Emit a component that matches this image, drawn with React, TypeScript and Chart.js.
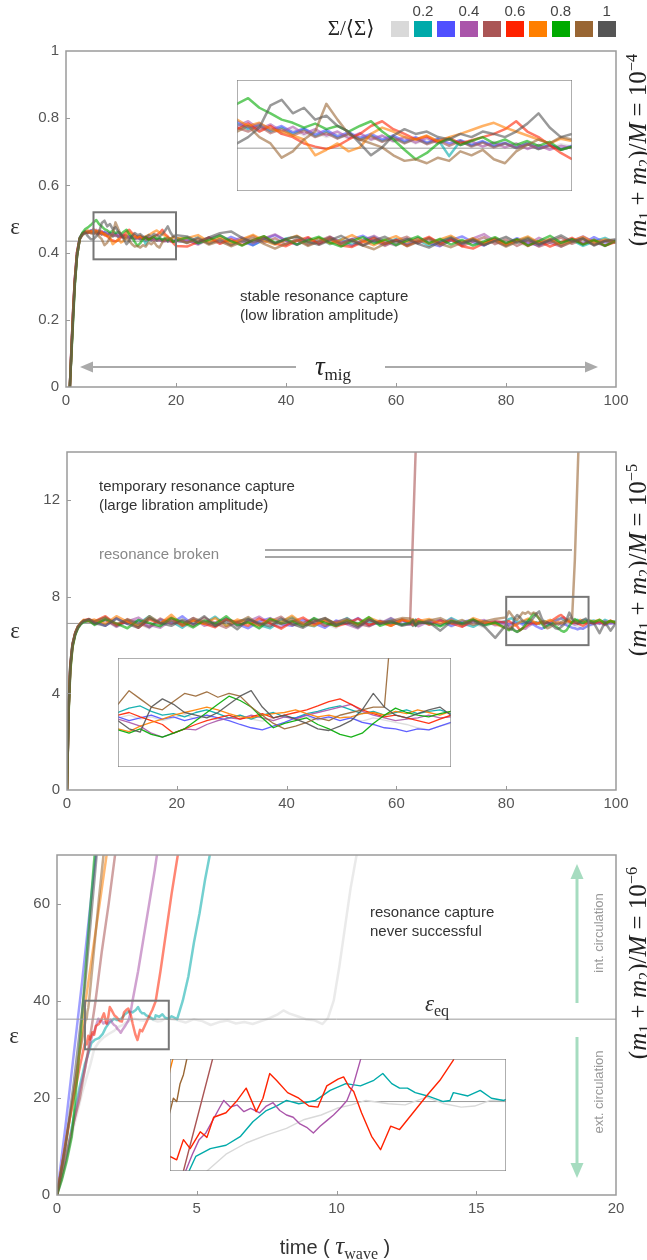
import React, { useEffect, useRef } from "react";
import { Chart, registerables } from "chart.js";
Chart.register(...registerables);

// ---------------- colours / legend ----------------
const COLORS = ["#d9d9d9", "#00aaaa", "#5050ff", "#aa55aa", "#aa5555", "#ff2200", "#ff7f00", "#00aa00", "#996633", "#555555"];
const LEGEND_LABELS = ["", "0.2", "", "0.4", "", "0.6", "", "0.8", "", "1"];
const MASS_EXPONENTS = ["−4", "−5", "−6"];

// ---------------- panel 1 (m/M = 1e-4) ----------------
const P1_X_TICKS = [0, 20, 40, 60, 80, 100];
const P1_Y_TICKS = [0, 0.2, 0.4, 0.6, 0.8, 1];
const P1_EQ = 0.434;
const P1_T = [0.7, 1, 1.3, 1.6, 2, 2.5, 3, 3.5, 4, 4.5,
  5, 5.5, 6, 6.5, 7, 7.5, 8, 8.5, 9, 9.5, 10, 10.5, 11, 11.5, 12, 12.5, 13, 13.5, 14, 14.5, 15, 15.5, 16, 16.5, 17, 17.5, 18, 18.5, 19, 19.5, 20,
  22, 24, 26, 28, 30, 32, 34, 36, 38, 40, 42, 44, 46, 48, 50, 52, 54, 56, 58, 60, 62, 64, 66, 68, 70, 72, 74, 76, 78, 80, 82, 84, 86, 88, 90, 92, 94, 96, 98, 100];
const P1_LIGHTGRAY = [0, .11, .22, .31, .39, .44, .454, .46, .458, .462,
  .458, .462, .455, .46, .452, .457, .45, .455, .448, .452, .446, .45, .444, .449, .442, .446, .44, .445, .443, .438, .444, .44, .436, .442, .439, .435, .441, .437, .434, .439, .436,
  .44, .428, .446, .432, .422, .441, .43, .447, .434, .424, .443, .429, .445, .433, .421, .439, .428, .446, .431, .42, .438, .427, .444, .43, .448, .433, .421, .44, .428, .445, .431, .419, .437, .426, .443, .43, .447, .432, .422, .436];
const P1_TEAL = [0, .11, .22, .31, .39, .44, .456, .462, .46, .465,
  .465, .458, .463, .455, .46, .452, .458, .449, .455, .447, .452, .445, .45, .443, .448, .441, .446, .44, .445, .424, .443, .437, .442, .436, .44, .434, .439, .433, .438, .432, .436,
  .43, .445, .427, .441, .424, .44, .422, .438, .426, .442, .448, .428, .443, .425, .44, .423, .436, .447, .426, .441, .423, .438, .421, .435, .446, .427, .442, .424, .439, .421, .434, .445, .426, .44, .422, .437, .42, .433, .444, .429];
const P1_BLUE = [0, .12, .23, .32, .40, .445, .458, .464, .462, .466,
  .468, .46, .465, .457, .462, .454, .459, .451, .457, .449, .454, .447, .452, .445, .45, .443, .448, .441, .446, .44, .444, .438, .443, .437, .441, .435, .44, .434, .438, .433, .437,
  .438, .426, .445, .43, .447, .433, .422, .44, .452, .436, .424, .443, .429, .446, .428, .44, .45, .433, .423, .438, .425, .444, .428, .419, .437, .448, .431, .421, .44, .426, .443, .429, .42, .437, .424, .441, .427, .446, .43, .436];
const P1_PURPLE = [0, .12, .22, .32, .40, .442, .455, .46, .463, .458,
  .462, .468, .458, .464, .455, .461, .452, .458, .45, .455, .447, .453, .445, .45, .443, .448, .441, .447, .44, .445, .438, .443, .436, .441, .435, .44, .433, .438, .432, .437, .434,
  .437, .424, .441, .452, .433, .445, .428, .442, .454, .436, .423, .44, .427, .446, .431, .42, .438, .45, .432, .422, .441, .428, .444, .426, .439, .423, .442, .455, .433, .421, .438, .425, .444, .429, .418, .435, .448, .431, .42, .436];
const P1_BROWNRED = [0, .11, .22, .31, .39, .44, .455, .46, .458, .462,
  .46, .455, .462, .453, .458, .45, .456, .448, .453, .446, .452, .444, .449, .442, .447, .44, .446, .439, .444, .437, .443, .436, .441, .435, .44, .434, .439, .433, .437, .432, .436,
  .43, .444, .427, .44, .422, .437, .45, .43, .443, .424, .441, .423, .435, .448, .428, .441, .422, .438, .42, .436, .447, .428, .44, .421, .437, .419, .433, .446, .425, .439, .42, .436, .418, .43, .445, .426, .44, .423, .436, .433];
const P1_RED = [0, .12, .23, .32, .40, .443, .457, .462, .46, .464,
  .458, .465, .455, .462, .452, .448, .44, .436, .433, .437, .445, .452, .462, .468, .458, .452, .445, .449, .442, .447, .44, .444, .448, .452, .458, .468, .455, .448, .438, .428, .42,
  .418, .432, .445, .426, .44, .422, .437, .448, .427, .419, .435, .446, .425, .44, .421, .417, .432, .444, .426, .438, .42, .434, .447, .427, .441, .419, .412, .428, .443, .425, .439, .42, .434, .418, .431, .444, .425, .438, .421, .432];
const P1_ORANGE = [0, .11, .22, .31, .39, .442, .456, .461, .466, .46,
  .47, .462, .466, .458, .455, .45, .445, .425, .432, .44, .43, .435, .452, .46, .455, .448, .445, .45, .443, .448, .452, .457, .462, .466, .46, .455, .45, .445, .44, .446, .443,
  .443, .452, .432, .445, .428, .44, .453, .436, .424, .439, .45, .431, .444, .427, .438, .452, .434, .422, .437, .449, .43, .442, .426, .439, .45, .431, .443, .427, .438, .423, .436, .448, .429, .441, .424, .435, .447, .43, .439, .434];
const P1_GREEN = [0, .10, .20, .30, .39, .443, .46, .47, .475, .482,
  .49, .497, .485, .478, .47, .466, .46, .465, .458, .462, .455, .462, .468, .455, .445, .432, .42, .428, .44, .446, .438, .443, .448, .44, .445, .438, .443, .437, .442, .432, .436,
  .445, .428, .438, .451, .434, .421, .437, .449, .429, .44, .424, .437, .447, .43, .418, .435, .446, .427, .439, .422, .436, .448, .428, .441, .424, .438, .421, .433, .446, .428, .44, .421, .435, .45, .429, .44, .424, .438, .42, .436];
const P1_BROWN = [0, .12, .23, .32, .40, .44, .452, .458, .462, .458,
  .455, .462, .448, .44, .422, .43, .445, .455, .49, .47, .452, .445, .44, .435, .425, .418, .42, .415, .422, .418, .43, .425, .432, .42, .415, .43, .438, .445, .44, .448, .445,
  .428, .441, .424, .434, .419, .432, .443, .426, .412, .427, .437, .42, .433, .444, .425, .438, .421, .41, .427, .436, .419, .432, .443, .426, .416, .43, .44, .423, .435, .418, .432, .443, .425, .438, .418, .431, .442, .424, .434, .43];
const P1_DARKGRAY = [0, .11, .21, .31, .39, .442, .455, .46, .448, .44,
  .44, .448, .46, .488, .495, .478, .485, .47, .475, .462, .455, .44, .425, .435, .45, .458, .452, .455, .448, .445, .452, .448, .455, .452, .448, .455, .465, .478, .46, .448, .452,
  .448, .432, .445, .458, .463, .444, .431, .442, .427, .44, .448, .432, .423, .437, .45, .433, .421, .436, .447, .43, .441, .426, .415, .432, .444, .427, .438, .422, .435, .447, .429, .439, .424, .437, .451, .433, .442, .421, .435, .44];

// ---------------- panel 2 (m/M = 1e-5) ----------------
const P2_X_TICKS = [0, 20, 40, 60, 80, 100];
const P2_Y_TICKS = [0, 4, 8, 12];
const P2_EQ = 6.9;
const P2_T = [0, 0.3, 0.6, 1, 1.5, 2, 2.5, 3, 4,
  5, 7, 9, 11, 13, 15, 17, 19, 21, 23, 25, 27, 29, 31, 33, 35, 37, 39, 41, 43, 45, 47, 49, 51, 53, 55, 57, 59, 61,
  62.5, 63, 63.5, 64,
  66, 68, 70, 72, 74, 76, 78,
  80, 80.5, 81, 81.5, 82, 82.5, 83, 83.5, 84, 84.5, 85, 85.5, 86, 86.5, 87, 87.5, 88, 88.5, 89, 89.5, 90, 90.5, 91, 91.5, 92, 92.5, 93, 93.5, 94, 94.5, 95,
  96, 97, 98, 99, 100];
const P2_LIGHTGRAY = [0, 3.3, 5.0, 5.9, 6.45, 6.7, 6.85, 6.95, 7.0,
  6.82, 7.0, 6.75, 7.05, 6.9, 6.7, 6.98, 7.1, 6.85, 6.72, 7.02, 6.88, 7.12, 6.8, 6.95, 6.68, 6.98, 7.1, 6.85, 6.76, 7.04, 6.9, 6.72, 7.08, 6.92, 6.8, 7.05, 6.84, 6.95,
  6.9, 7.0, 6.82, 6.96,
  6.84, 7.04, 6.76, 7.0, 6.9, 6.74, 6.96,
  6.9, 6.95, 6.88, 6.92, 6.85, 6.9, 6.96, 6.88, 6.93, 6.86, 6.9, 6.95, 6.88, 6.84, 6.9, 6.94, 6.88, 6.92, 6.86, 6.9, 6.95, 6.89, 6.84, 6.9, 6.86, 6.82, 6.78, 6.72, 6.68, 6.75, 6.8,
  6.85, 6.92, 6.8, 6.95, 6.88];
const P2_TEAL = [0, 3.5, 5.2, 6.05, 6.5, 6.78, 6.9, 7.02, 7.0,
  6.95, 7.15, 6.8, 7.02, 6.88, 7.2, 6.85, 6.98, 6.72, 7.05, 6.9, 7.18, 6.8, 6.96, 7.1, 6.84, 6.7, 7.0, 7.15, 6.88, 6.78, 7.04, 6.9, 7.12, 6.82, 6.98, 6.86, 7.1, 6.85,
  6.98, 6.8, 7.06, 6.9,
  7.04, 6.82, 7.12, 6.9, 6.76, 7.0, 6.88,
  7.0, 7.08, 7.12, 7.02, 6.95, 6.98, 6.92, 7.0, 7.05, 6.98, 6.9, 6.95, 6.88, 6.95, 7.0, 6.92, 6.9, 6.98, 7.02, 7.08, 7.12, 7.05, 6.98, 7.02, 6.95, 7.0, 7.05, 6.98, 7.02, 7.05, 6.98,
  7.02, 6.9, 7.05, 6.95, 7.0];
const P2_BLUE = [0, 3.4, 5.1, 6.0, 6.48, 6.74, 6.88, 6.98, 7.02,
  7.0, 6.8, 7.12, 6.88, 7.02, 6.74, 7.06, 6.9, 7.2, 6.85, 6.98, 6.78, 7.1, 6.88, 6.7, 6.98, 7.12, 6.86, 6.8, 7.05, 6.9, 6.72, 7.02, 6.88, 7.12, 6.8, 6.98, 6.88, 7.04,
  6.88, 7.06, 6.84, 6.98,
  6.9, 7.04, 6.8, 6.96, 7.06, 6.84, 6.98,
  6.92, 6.85, 6.9, 6.95, 6.88, 6.92, 6.85, 6.9, 6.95, 6.9, 6.85, 6.78, 6.72, 6.68, 6.75, 6.82, 6.9, 6.95, 6.88, 6.92, 6.85, 6.9, 6.82, 6.78, 6.72, 6.7, 6.65, 6.7, 6.68, 6.75, 6.82,
  6.88, 6.95, 6.85, 6.92, 6.9];
const P2_PURPLE = [0, 3.3, 5.0, 5.95, 6.45, 6.72, 6.88, 7.0, 7.05,
  6.88, 7.06, 6.76, 6.98, 7.14, 6.84, 6.72, 7.04, 6.88, 7.12, 6.8, 6.94, 7.08, 6.8, 6.98, 7.18, 6.88, 6.74, 7.0, 6.9, 7.1, 6.8, 6.98, 6.86, 6.7, 7.04, 6.9, 7.12, 6.88,
  6.84, 7.0, 6.9, 6.78,
  7.0, 6.84, 7.08, 6.78, 6.94, 7.04, 6.82,
  6.88, 6.82, 6.75, 6.62, 6.55, 6.62, 6.7, 6.68, 6.78, 6.85, 6.9, 6.88, 6.95, 6.9, 6.85, 6.92, 6.88, 6.95, 7.0, 7.05, 7.1, 7.15, 7.02, 6.95, 6.9, 6.85, 6.88, 6.9, 6.95, 6.9, 6.92,
  6.95, 6.88, 7.0, 6.9, 6.95];
const P2_BROWNRED = [0, 3.5, 5.2, 6.05, 6.52, 6.78, 6.92, 7.0, 6.98,
  6.88, 7.04, 6.8, 7.08, 6.92, 6.74, 7.1, 6.88, 7.0, 6.8, 7.14, 6.9, 6.72, 6.98, 7.06, 6.84, 6.98, 7.18, 6.82, 6.94, 7.04, 6.8, 6.96, 7.1, 6.88, 6.78, 7.0, 6.92, 7.06,
  7.0, 10.5, 14.0, 17.5];
const P2_RED = [0, 3.4, 5.1, 6.0, 6.5, 6.76, 6.9, 7.02, 7.08,
  6.98, 7.2, 6.85, 6.98, 6.72, 7.06, 6.9, 7.14, 6.8, 7.02, 6.88, 6.74, 7.06, 6.96, 6.8, 7.1, 6.9, 6.68, 6.96, 7.14, 6.86, 7.0, 6.78, 6.9, 7.1, 6.84, 6.98, 6.8, 7.04,
  6.94, 6.82, 7.0, 7.08,
  6.84, 7.02, 6.9, 6.76, 7.04, 6.9, 6.98,
  6.95, 7.0, 6.92, 6.85, 6.78, 6.62, 6.7, 6.78, 6.85, 6.9, 6.95, 6.88, 6.92, 6.98, 6.9, 6.95, 7.0, 7.05, 7.12, 7.2, 7.25, 7.15, 7.05, 6.98, 6.92, 6.95, 6.9, 6.85, 6.8, 6.88, 6.95,
  6.9, 6.98, 6.85, 7.02, 6.9];
const P2_ORANGE = [0, 3.3, 5.0, 5.95, 6.48, 6.75, 6.92, 7.05, 7.0,
  7.06, 6.88, 7.2, 6.96, 6.8, 7.12, 6.9, 7.26, 6.84, 7.02, 6.88, 7.12, 6.8, 7.06, 6.92, 6.8, 7.1, 6.96, 7.22, 6.88, 6.8, 7.06, 6.9, 7.02, 6.84, 7.14, 6.96, 6.8, 7.06,
  6.98, 7.08, 6.88, 7.0,
  7.08, 6.9, 7.02, 6.84, 7.12, 6.96, 6.88,
  6.7, 6.65, 6.75, 6.82, 6.88, 6.95, 7.0, 7.05, 7.1, 7.05, 6.98, 6.92, 6.9, 6.95, 6.98, 7.0, 7.05, 6.98, 6.92, 6.95, 6.9, 6.92, 6.98, 7.0, 6.95, 7.02, 6.98, 7.05, 7.0, 6.95, 7.02,
  6.98, 7.05, 6.9, 7.0, 6.95];
const P2_GREEN = [0, 3.2, 4.9, 5.9, 6.42, 6.7, 6.86, 6.95, 7.02,
  6.84, 7.08, 6.9, 6.7, 7.04, 6.92, 6.78, 7.12, 6.96, 6.74, 7.02, 6.88, 7.2, 6.82, 6.96, 6.7, 7.08, 6.9, 7.0, 6.78, 7.12, 6.92, 6.8, 7.02, 6.88, 7.16, 6.8, 6.96, 6.84,
  6.92, 7.04, 6.82, 6.98,
  6.9, 6.78, 7.0, 6.9, 7.06, 6.82, 6.94,
  6.68, 6.62, 6.7, 6.6, 6.55, 6.62, 6.7, 6.85, 7.0, 7.15, 7.3, 7.22, 7.1, 6.9, 6.72, 6.8, 6.85, 6.9, 6.78, 6.7, 6.6, 6.55, 6.62, 6.8, 6.95, 7.08, 7.0, 6.95, 6.92, 6.98, 7.02,
  6.95, 7.05, 6.9, 7.0, 6.92];
const P2_BROWN = [0, 3.4, 5.2, 6.05, 6.5, 6.78, 6.92, 7.0, 7.05,
  6.98, 7.14, 6.88, 7.06, 6.8, 7.2, 6.92, 7.02, 6.84, 7.12, 6.96, 6.8, 7.06, 6.92, 7.16, 6.84, 7.0, 6.88, 7.1, 6.82, 6.96, 7.12, 6.88, 7.02, 6.8, 7.06, 6.92, 7.0, 7.12,
  7.1, 6.94, 7.04, 6.88,
  7.02, 7.12, 6.9, 7.04, 6.84, 6.98, 7.08,
  7.15, 7.4, 7.25, 7.1, 7.05, 7.2, 7.35, 7.3, 7.38, 7.28, 7.35, 7.3, 7.1, 6.95, 6.8, 6.7, 6.75, 6.82, 6.9, 6.85, 6.95, 7.0, 7.05, 7.1, 7.1, 9.5, 13.0, 16.5];
const P2_DARKGRAY = [0, 3.4, 5.1, 6.0, 6.48, 6.74, 6.9, 7.0, 7.08,
  6.92, 6.8, 7.1, 6.88, 6.72, 7.12, 6.92, 6.8, 7.06, 6.88, 7.2, 6.8, 6.98, 6.66, 7.06, 6.92, 6.78, 7.1, 6.88, 6.72, 6.98, 7.12, 6.84, 6.94, 6.74, 7.06, 6.88, 7.0, 6.8,
  6.88, 7.0, 6.8, 6.92,
  6.94, 6.6, 6.98, 6.86, 7.0, 6.78, 6.3,
  6.85, 6.7, 6.64, 7.1, 7.25, 7.15, 7.0, 6.95, 6.9, 7.0, 7.15, 7.3, 7.4, 7.1, 6.9, 6.95, 6.88, 6.8, 6.7, 6.67, 6.75, 6.85, 7.05, 7.35, 7.1, 6.95, 6.9, 6.98, 7.05, 7.1, 6.95,
  6.9, 6.5, 6.95, 6.6, 6.92];

// ---------------- panel 3 (m/M = 1e-6) ----------------
const P3_X_TICKS = [0, 5, 10, 15, 20];
const P3_Y_TICKS = [0, 20, 40, 60];
const P3_EQ = 36.2;
const P3_LIGHTGRAY_T = [0, 0.3, 0.6, 0.9, 1.2, 1.33, 1.5, 1.68, 1.86, 2.04, 2.2, 2.35, 2.49, 2.62, 2.75, 2.95, 3.1, 3.29, 3.45, 3.6, 3.72, 3.86, 4.0, 4.3, 4.6, 4.9, 5.2, 5.5, 5.8, 6.1, 6.4, 6.7, 7.0, 7.3, 7.6, 7.9, 8.1, 8.3, 8.6, 8.9, 9.2, 9.5, 9.7, 9.9, 10.1, 10.3, 10.5, 10.75];
const P3_LIGHTGRAY = [0, 7, 14, 21, 27, 30, 31.5, 32.5, 33.2, 33.8, 34.6, 35.0, 35.6, 35.9, 36.3, 36.0, 35.9, 36.6, 36.0, 35.7, 35.8, 36.3, 36.3, 36.0, 35.5, 36.2, 35.8, 35.0, 35.6, 35.9, 35.3, 35.6, 35.2, 35.8, 36.4, 37.2, 38.0, 37.4, 36.8, 36.2, 36.0, 35.2, 36.5, 40, 47, 55, 63, 71];
const P3_TEAL_T = [0, 0.2, 0.4, 0.6, 0.8, 1.0, 1.17, 1.23, 1.36, 1.5, 1.63, 1.74, 1.86, 1.95, 2.04, 2.15, 2.3, 2.43, 2.57, 2.7, 2.82, 2.9, 2.98, 3.05, 3.12, 3.19, 3.3, 3.44, 3.5, 3.53, 3.66, 3.77, 3.87, 3.98, 4.1, 4.3, 4.5, 4.7, 4.9, 5.1, 5.3, 5.5];
const P3_TEAL = [0, 5, 10, 16, 22, 27, 30, 31.3, 32.0, 32.3, 33.1, 34.4, 35.4, 35.8, 36.3, 36.0, 36.3, 37.2, 37.8, 37.6, 38.1, 38.7, 37.8, 37.4, 37.4, 37.0, 36.7, 36.2, 36.3, 37.0, 36.7, 37.2, 36.5, 36.3, 36.8, 36.2, 40, 45, 52, 58, 65, 71];
const P3_BLUE_T = [0, 0.3, 0.6, 0.9, 1.2, 1.5];
const P3_BLUE = [0, 14, 29, 44, 60, 76];
const P3_PURPLE_T = [0, 0.2, 0.4, 0.6, 0.8, 1.0, 1.14, 1.2, 1.26, 1.32, 1.38, 1.44, 1.48, 1.54, 1.6, 1.66, 1.72, 1.8, 1.86, 1.92, 1.98, 2.04, 2.1, 2.16, 2.22, 2.28, 2.34, 2.4, 2.46, 2.52, 2.58, 2.64, 2.7, 2.9, 3.1, 3.3, 3.5, 3.6];
const P3_PURPLE = [0, 4, 9, 15, 21, 26, 30, 31.5, 32.8, 33.4, 34.5, 35.6, 36.3, 35.7, 35.9, 35.3, 35.6, 35.2, 35.8, 36.1, 35.4, 35.0, 34.8, 34.2, 33.9, 33.4, 34.0, 34.5, 35.0, 35.6, 36.3, 37.8, 39.9, 46, 53, 60, 67, 71];
const P3_BROWNRED_T = [0, 0.2, 0.4, 0.6, 0.82, 1.0, 1.12, 1.25, 1.38, 1.6, 1.85, 2.1];
const P3_BROWNRED = [0, 5, 10, 15, 20, 26, 30, 35, 40, 50, 60, 71];
const P3_RED_T = [0, 0.2, 0.4, 0.6, 0.8, 1.0, 1.06, 1.12, 1.18, 1.27, 1.33, 1.39, 1.5, 1.6, 1.68, 1.77, 1.83, 1.89, 1.95, 2.05, 2.15, 2.24, 2.32, 2.4, 2.5, 2.55, 2.6, 2.64, 2.71, 2.8, 2.88, 2.97, 3.05, 3.17, 3.29, 3.41, 3.53, 3.7, 3.9, 4.1, 4.35];
const P3_RED = [0, 7, 14, 20, 26, 31.3, 31.0, 32.8, 32.0, 33.5, 33.0, 34.8, 35.2, 36.3, 37.4, 35.3, 36.5, 38.7, 38.1, 37.0, 36.5, 35.8, 35.7, 37.6, 38.2, 38.4, 37.5, 37.1, 35.2, 33.1, 31.9, 34.0, 33.7, 35.2, 36.7, 38.1, 39.9, 46, 54, 62, 71];
const P3_ORANGE_T = [0, 0.3, 0.6, 0.85, 1.0, 1.2, 1.4, 1.6, 1.8];
const P3_ORANGE = [0, 10, 21, 31, 39, 47, 55, 63, 71];
const P3_GREEN_T = [0, 0.17, 0.35, 0.53, 0.75, 0.95, 1.15, 1.4];
const P3_GREEN = [0, 3, 7, 12, 26, 41, 56, 74];
const P3_BROWN_T = [0, 0.3, 0.6, 0.8, 0.9, 1.0, 1.03, 1.06, 1.09, 1.12, 1.15, 1.3, 1.5, 1.7];
const P3_BROWN = [0, 10, 21, 29, 32, 35.3, 36.5, 36.2, 37.8, 38.6, 40, 49, 61, 72];
const P3_DARKGRAY_T = [0, 0.3, 0.6, 0.8, 1.0, 1.2, 1.45];
const P3_DARKGRAY = [0, 10, 23, 33, 43, 56, 72];

// ---------------- helpers ----------------
type Series = { t: number[]; v: (number | null)[]; color: string };
type PanelCfg = {
  left: number; top: number; width: number; height: number;
  xMin: number; xMax: number; yMin: number; yMax: number;
  xTicks?: number[]; yTicks?: number[];
  series: Series[];
  lineWidth: number; alpha: number;
  eq?: { y: number; x0: number; x1: number; onTop: boolean };
  box?: [number, number, number, number];
  frameColor: string; frameWidth: number;
  axes: boolean;
};

const SANS = "'Liberation Sans', Arial, Helvetica, sans-serif";
const SERIF = "'Liberation Serif', 'DejaVu Serif', 'Times New Roman', serif";

function hexA(hex: string, a: number) {
  const n = parseInt(hex.slice(1), 16);
  return `rgba(${(n >> 16) & 255},${(n >> 8) & 255},${n & 255},${a})`;
}
function pts(t: number[], v: (number | null)[]) {
  const n = Math.min(t.length, v.length);
  const out: { x: number; y: number | null }[] = [];
  for (let i = 0; i < n; i++) out.push({ x: t[i], y: v[i] });
  return out;
}

const P1_SERIES: Series[] = [P1_LIGHTGRAY, P1_TEAL, P1_BLUE, P1_PURPLE, P1_BROWNRED, P1_RED, P1_ORANGE, P1_GREEN, P1_BROWN, P1_DARKGRAY]
  .map((v, i) => ({ t: P1_T, v, color: COLORS[i] }));
const P2_SERIES: Series[] = [P2_LIGHTGRAY, P2_TEAL, P2_BLUE, P2_PURPLE, P2_BROWNRED, P2_RED, P2_ORANGE, P2_GREEN, P2_BROWN, P2_DARKGRAY]
  .map((v, i) => ({ t: P2_T, v, color: COLORS[i] }));
const P3_SERIES: Series[] = [
  [P3_LIGHTGRAY_T, P3_LIGHTGRAY], [P3_TEAL_T, P3_TEAL], [P3_BLUE_T, P3_BLUE], [P3_PURPLE_T, P3_PURPLE], [P3_BROWNRED_T, P3_BROWNRED],
  [P3_RED_T, P3_RED], [P3_ORANGE_T, P3_ORANGE], [P3_GREEN_T, P3_GREEN], [P3_BROWN_T, P3_BROWN], [P3_DARKGRAY_T, P3_DARKGRAY],
].map((p, i) => ({ t: p[0] as number[], v: p[1] as number[], color: COLORS[i] }));

const MAIN_FRAME = "#9a9a9a";
const INSET_FRAME = "#7a7a7a";

const PANELS: PanelCfg[] = [
  { left: 66, top: 47, width: 550, height: 340, xMin: 0, xMax: 100, yMin: 0, yMax: 1, xTicks: P1_X_TICKS, yTicks: P1_Y_TICKS,
    series: P1_SERIES, lineWidth: 2.5, alpha: 0.6, eq: { y: P1_EQ, x0: 0, x1: 100, onTop: false }, box: [5, 20, 0.38, 0.52],
    frameColor: MAIN_FRAME, frameWidth: 1.5, axes: true },
  { left: 237, top: 80, width: 335, height: 111, xMin: 5, xMax: 20, yMin: 0.38, yMax: 0.52,
    series: P1_SERIES, lineWidth: 2.5, alpha: 0.6, eq: { y: P1_EQ, x0: 5, x1: 20, onTop: false },
    frameColor: INSET_FRAME, frameWidth: 1.2, axes: false },
  { left: 67, top: 448, width: 549, height: 342, xMin: 0, xMax: 100, yMin: 0, yMax: 14, xTicks: P2_X_TICKS, yTicks: P2_Y_TICKS,
    series: P2_SERIES, lineWidth: 2.5, alpha: 0.6, eq: { y: P2_EQ, x0: 0, x1: 100, onTop: false }, box: [80, 95, 6, 8],
    frameColor: MAIN_FRAME, frameWidth: 1.5, axes: true },
  { left: 118, top: 658, width: 333, height: 109, xMin: 80, xMax: 95, yMin: 6, yMax: 8,
    series: P2_SERIES, lineWidth: 1.3, alpha: 0.9,
    frameColor: INSET_FRAME, frameWidth: 1.2, axes: false },
  { left: 57, top: 851, width: 559, height: 344, xMin: 0, xMax: 20, yMin: 0, yMax: 70, xTicks: P3_X_TICKS, yTicks: P3_Y_TICKS,
    series: P3_SERIES, lineWidth: 2.5, alpha: 0.55, eq: { y: P3_EQ, x0: 0, x1: 20, onTop: true }, box: [1, 4, 30, 40],
    frameColor: MAIN_FRAME, frameWidth: 1.5, axes: true },
  { left: 170, top: 1059, width: 336, height: 112, xMin: 1, xMax: 4, yMin: 30, yMax: 40,
    series: P3_SERIES, lineWidth: 1.4, alpha: 1, eq: { y: P3_EQ, x0: 1, x1: 4, onTop: false },
    frameColor: INSET_FRAME, frameWidth: 1.2, axes: false },
];

const AX_W = 60, AX_H = 30, PAD_T = 12, PAD_R = 26;

function geom(cfg: PanelCfg) {
  if (!cfg.axes) return { l: cfg.left, t: cfg.top, w: cfg.width, h: cfg.height };
  return { l: cfg.left - AX_W, t: cfg.top - PAD_T, w: AX_W + cfg.width + PAD_R, h: PAD_T + cfg.height + AX_H };
}

function buildConfig(cfg: PanelCfg): any {
  const datasets: any[] = [];
  if (cfg.eq) {
    datasets.push({
      data: [{ x: cfg.eq.x0, y: cfg.eq.y }, { x: cfg.eq.x1, y: cfg.eq.y }],
      borderColor: "#9a9a9a", borderWidth: 1, pointRadius: 0, order: cfg.eq.onTop ? -100 : 100,
    });
  }
  cfg.series.forEach((s, i) => {
    datasets.push({
      data: pts(s.t, s.v),
      borderColor: hexA(s.color, cfg.alpha),
      borderWidth: cfg.lineWidth,
      pointRadius: 0,
      spanGaps: false,
      tension: 0,
      borderJoinStyle: "round",
      order: -i,
    });
  });
  const tickFont = { family: SANS, size: 15 };
  const deco = {
    id: "deco",
    afterDatasetsDraw(chart: any) {
      const { ctx, chartArea: a, scales } = chart;
      const xs = scales.x, ys = scales.y;
      ctx.save();
      if (cfg.box) {
        const [x0, x1, y0, y1] = cfg.box;
        const px0 = xs.getPixelForValue(x0), px1 = xs.getPixelForValue(x1);
        const py0 = ys.getPixelForValue(y0), py1 = ys.getPixelForValue(y1);
        ctx.strokeStyle = "#777777";
        ctx.lineWidth = 2;
        ctx.strokeRect(px0, py1, px1 - px0, py0 - py1);
      }
      ctx.strokeStyle = cfg.frameColor;
      ctx.lineWidth = cfg.frameWidth;
      ctx.strokeRect(a.left, a.top, a.right - a.left, a.bottom - a.top);
      if (cfg.axes) {
        ctx.lineWidth = 1;
        ctx.beginPath();
        (cfg.xTicks || []).forEach((v) => {
          const p = Math.round(xs.getPixelForValue(v)) + 0.5;
          if (p > a.left + 2 && p < a.right - 2) { ctx.moveTo(p, a.bottom); ctx.lineTo(p, a.bottom - 4); }
        });
        (cfg.yTicks || []).forEach((v) => {
          const p = Math.round(ys.getPixelForValue(v)) + 0.5;
          if (p > a.top + 2 && p < a.bottom - 2) { ctx.moveTo(a.left, p); ctx.lineTo(a.left + 4, p); }
        });
        ctx.stroke();
      }
      ctx.restore();
    },
  };
  const xScale: any = {
    type: "linear", min: cfg.xMin, max: cfg.xMax, display: cfg.axes,
    grid: { display: false, drawTicks: false }, border: { display: false },
    ticks: { font: tickFont, color: "#555", padding: 5, maxRotation: 0, autoSkip: false, callback: (v: number) => String(v) },
  };
  const yScale: any = {
    type: "linear", min: cfg.yMin, max: cfg.yMax, display: cfg.axes,
    grid: { display: false, drawTicks: false }, border: { display: false },
    ticks: { font: tickFont, color: "#555", padding: 7, autoSkip: false, callback: (v: number) => String(v) },
  };
  if (cfg.axes) {
    xScale.afterBuildTicks = (s: any) => { s.ticks = (cfg.xTicks || []).map((v) => ({ value: v })); };
    yScale.afterBuildTicks = (s: any) => { s.ticks = (cfg.yTicks || []).map((v) => ({ value: v })); };
    xScale.afterFit = (s: any) => { s.height = AX_H; };
    yScale.afterFit = (s: any) => { s.width = AX_W; };
  }
  return {
    type: "line",
    data: { datasets },
    options: {
      animation: false,
      responsive: false,
      devicePixelRatio: 1,
      events: [],
      layout: { padding: cfg.axes ? { top: PAD_T, right: PAD_R, left: 0, bottom: 0 } : 0 },
      plugins: { legend: { display: false }, tooltip: { enabled: false } },
      scales: { x: xScale, y: yScale },
    },
    plugins: [deco],
  };
}

function ChartPanel({ cfg }: { cfg: PanelCfg }) {
  const ref = useRef<HTMLCanvasElement>(null);
  const g = geom(cfg);
  useEffect(() => {
    if (!ref.current) return;
    const chart = new Chart(ref.current, buildConfig(cfg));
    return () => chart.destroy();
  }, []);
  return (
    <canvas ref={ref} width={g.w} height={g.h}
      style={{ position: "absolute", left: g.l, top: g.t, width: g.w, height: g.h }} />
  );
}

function Txt({ x, y, center, rotate, style, children }: any) {
  let tr = center ? "translate(-50%,-50%)" : "translateY(-50%)";
  if (rotate) tr = "translate(-50%,-50%) rotate(-90deg)";
  return (
    <div style={{ position: "absolute", left: x, top: y, transform: tr, whiteSpace: "nowrap", lineHeight: 1, ...style }}>
      {children}
    </div>
  );
}

const SUB = { fontSize: "0.65em", verticalAlign: "-0.3em", lineHeight: 0 } as any;
const SUP = { fontSize: "0.65em", verticalAlign: "0.55em", lineHeight: 0 } as any;

function MassLabel({ exp }: { exp: string }) {
  return (
    <span style={{ fontFamily: SERIF, fontSize: 25, color: "#222" }}>
      (<i>m</i><span style={SUB}>1</span> + <i>m</i><span style={SUB}>2</span>)/<i>M</i> = 10<span style={SUP}>{exp}</span>
    </span>
  );
}

export default function App() {
  const annot = { fontFamily: SANS, fontSize: 15, color: "#333" };
  const swX0 = 391, swStep = 22.97;
  return (
    <div style={{ position: "absolute", left: 0, top: 0, width: 647, height: 1260, background: "#fff", overflow: "hidden", fontFamily: SANS }}>
      {PANELS.map((p, i) => <ChartPanel key={i} cfg={p} />)}

      <svg width={647} height={1260} style={{ position: "absolute", left: 0, top: 0, pointerEvents: "none" }}>
        <line x1={296} y1={367} x2={88} y2={367} stroke="#aaaaaa" strokeWidth={2} />
        <polygon points="80,367 93,361.5 93,372.5" fill="#aaaaaa" />
        <line x1={385} y1={367} x2={590} y2={367} stroke="#aaaaaa" strokeWidth={2} />
        <polygon points="598,367 585,361.5 585,372.5" fill="#aaaaaa" />
        <line x1={265} y1={550} x2={572} y2={550} stroke="#888888" strokeWidth={1.3} />
        <line x1={265} y1={557} x2={412} y2={557} stroke="#888888" strokeWidth={1.3} />
        <line x1={577} y1={1003} x2={577} y2={876} stroke="#a6dcc0" strokeWidth={3} />
        <polygon points="577,864 570.5,879 583.5,879" fill="#a6dcc0" />
        <line x1={577} y1={1037} x2={577} y2={1166} stroke="#a6dcc0" strokeWidth={3} />
        <polygon points="577,1178 570.5,1163 583.5,1163" fill="#a6dcc0" />
      </svg>

      {/* legend */}
      <Txt x={351} y={28} center style={{ fontFamily: SERIF, fontSize: 21, color: "#222" }}>Σ/⟨Σ⟩</Txt>
      {COLORS.map((c, i) => (
        <div key={i} style={{ position: "absolute", left: swX0 + i * swStep, top: 21, width: 18, height: 16, background: c }} />
      ))}
      {LEGEND_LABELS.map((l, i) => l ? (
        <Txt key={i} x={swX0 + i * swStep + 9} y={10} center style={{ fontSize: 15, color: "#444" }}>{l}</Txt>
      ) : null)}

      {/* y labels */}
      <Txt x={15} y={226} center style={{ fontFamily: SERIF, fontSize: 23, color: "#333" }}>ε</Txt>
      <Txt x={15} y={630} center style={{ fontFamily: SERIF, fontSize: 23, color: "#333" }}>ε</Txt>
      <Txt x={14} y={1035} center style={{ fontFamily: SERIF, fontSize: 23, color: "#333" }}>ε</Txt>

      {/* right mass labels */}
      <Txt x={637} y={150} rotate><MassLabel exp={MASS_EXPONENTS[0]} /></Txt>
      <Txt x={637} y={560} rotate><MassLabel exp={MASS_EXPONENTS[1]} /></Txt>
      <Txt x={637} y={963} rotate><MassLabel exp={MASS_EXPONENTS[2]} /></Txt>

      {/* panel 1 annotations */}
      <Txt x={240} y={295} style={annot}>stable resonance capture</Txt>
      <Txt x={240} y={314} style={annot}>(low libration amplitude)</Txt>
      <Txt x={333} y={366} center style={{ fontFamily: SERIF, fontSize: 27, color: "#222" }}>
        <i>τ</i><span style={{ fontSize: 17, verticalAlign: "-0.35em", lineHeight: 0 }}>mig</span>
      </Txt>

      {/* panel 2 annotations */}
      <Txt x={99} y={485} style={annot}>temporary resonance capture</Txt>
      <Txt x={99} y={504} style={annot}>(large libration amplitude)</Txt>
      <Txt x={99} y={553} style={{ ...annot, color: "#888" }}>resonance broken</Txt>

      {/* panel 3 annotations */}
      <Txt x={370} y={911} style={annot}>resonance capture</Txt>
      <Txt x={370} y={930} style={annot}>never successful</Txt>
      <Txt x={437} y={1003} center style={{ fontFamily: SERIF, fontSize: 23, color: "#333" }}>
        <i>ε</i><span style={{ fontSize: 16, verticalAlign: "-0.35em", lineHeight: 0 }}>eq</span>
      </Txt>
      <Txt x={598} y={933} rotate style={{ fontSize: 13, color: "#999" }}>int. circulation</Txt>
      <Txt x={598} y={1092} rotate style={{ fontSize: 13, color: "#999" }}>ext. circulation</Txt>

      {/* x axis title */}
      <Txt x={335} y={1245} center style={{ fontSize: 20, color: "#333" }}>
        time ( <span style={{ fontFamily: SERIF, fontSize: 25 }}><i>τ</i><span style={{ fontSize: 16, verticalAlign: "-0.35em", lineHeight: 0 }}>wave</span></span> )
      </Txt>
    </div>
  );
}
